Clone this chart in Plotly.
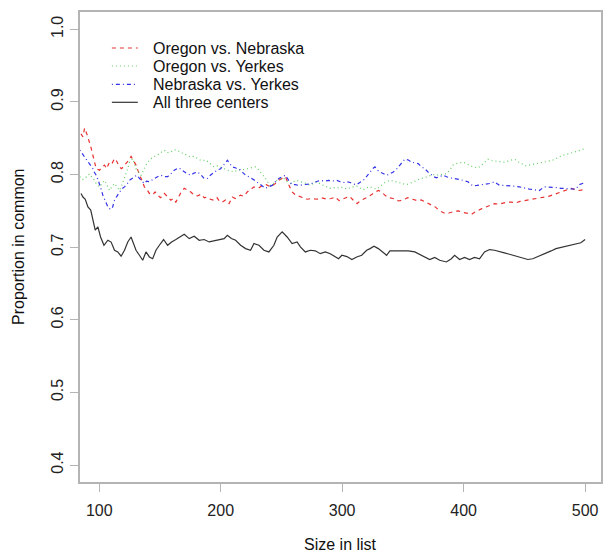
import plotly.graph_objects as go

# ---------------- data ----------------
series_names = ["Oregon vs. Nebraska", "Oregon vs. Yerkes", "Nebraska vs. Yerkes", "All three centers"]

red_x = [85, 86.5, 88, 90, 93.4, 95.5, 97.5, 100.3, 102, 104.4, 106, 108.5, 110.5, 112.6, 114.5, 116.7, 118.5,
         120.8, 123, 126.2, 128, 130.3, 132, 134.4, 137.2, 139, 141.3, 144, 146, 148.1, 150.5, 153.6, 156, 159,
         161, 163.1, 165, 167.5, 170, 172.5, 175.4, 178, 180.9, 184, 186.5, 189, 191.5, 194.6, 197, 199, 201.4,
         204, 206.9, 209.6, 212, 216.4, 219, 221.9, 224.5, 227.4, 231, 234.2, 237.5, 241, 244.5, 247.9, 251,
         253.3, 256, 258.8, 261.5, 264.3, 267.5, 271.1, 275, 279.3, 283, 287.5, 291, 294.3, 297.5, 300, 303, 306,
         309, 312.3, 315, 318, 321, 324, 327, 330.1, 333, 335.6, 338.5, 342, 346.5, 350, 354, 358, 362, 365,
         368.4, 371.5, 374, 376.6, 379, 381.5, 384.8, 388, 392, 395.7, 399, 402.5, 406.6, 409, 412.1, 415, 418,
         421.5, 425.7, 429, 432.5, 436, 439.3, 443, 446.5, 450, 453, 457, 460.5, 463.5, 466.7, 470, 473.5, 477,
         480.3, 484, 488.5, 492, 495, 498.1, 500]
red_y = [0.856, 0.852, 0.864, 0.855, 0.836, 0.822, 0.808, 0.806, 0.810, 0.813, 0.808, 0.817, 0.815, 0.822, 0.818,
         0.810, 0.808, 0.813, 0.817, 0.825, 0.820, 0.813, 0.805, 0.794, 0.783, 0.780, 0.774, 0.772, 0.776, 0.7715,
         0.768, 0.774, 0.770, 0.7646, 0.767, 0.762, 0.768, 0.776, 0.781, 0.779, 0.776, 0.772, 0.7705, 0.773, 0.768,
         0.769, 0.766, 0.7646, 0.768, 0.763, 0.762, 0.765, 0.760, 0.769, 0.767, 0.7715, 0.770, 0.776, 0.779, 0.783,
         0.781, 0.785, 0.786, 0.783, 0.787, 0.792, 0.795, 0.797, 0.786, 0.776, 0.772, 0.7705, 0.768, 0.766, 0.767,
         0.766, 0.768, 0.766, 0.767, 0.769, 0.764, 0.766, 0.768, 0.770, 0.765, 0.760, 0.764, 0.766, 0.769, 0.772,
         0.776, 0.778, 0.775, 0.771, 0.768, 0.767, 0.7636, 0.765, 0.768, 0.766, 0.764, 0.765, 0.762, 0.760, 0.758,
         0.7554, 0.752, 0.749, 0.7463, 0.747, 0.749, 0.750, 0.748, 0.747, 0.7453, 0.748, 0.751, 0.753, 0.755,
         0.757, 0.760, 0.759, 0.761, 0.762, 0.762, 0.761, 0.763, 0.764, 0.7656, 0.766, 0.767, 0.768, 0.769, 0.770,
         0.772, 0.774, 0.776, 0.778, 0.781, 0.779, 0.778, 0.779, 0.778]

green_x = [84, 86, 88, 90, 92.1, 94, 96.2, 98, 100.3, 102.5, 104.4, 106.5, 108.5, 110.5, 112.6, 114.5, 116.7,
           118.8, 120.8, 123, 124.9, 127.6, 130.3, 132.5, 134.4, 136.5, 138.5, 141, 144, 147, 149.5, 151.5, 153.6,
           156, 159, 161.5, 164.5, 167, 170, 172.5, 175.4, 178, 180.9, 184, 187.7, 191, 194.6, 197.5, 200, 203,
           205.5, 208, 211, 213.5, 216.4, 219, 221.9, 225, 228.7, 230.5, 232.8, 235, 236.9, 239, 241, 243.5, 246.5,
           249, 252, 255, 257.4, 260, 262.9, 265.5, 268.4, 271, 273.8, 276.5, 279.3, 282, 284.8, 287.5, 290.2, 293,
           295.7, 298.5, 301.1, 304, 306.6, 309, 312, 315, 317.5, 320, 323, 326, 328.4, 331, 333.9, 336.5, 339.3,
           342, 344.8, 348, 351, 353, 356, 358.5, 361.2, 364, 366.5, 369.4, 372, 374.9, 377.5, 380.3, 383, 385.8,
           388.5, 391.3, 394, 396.7, 399.5, 402.2, 404.5, 407.1, 409.5, 411.8, 414, 415.9, 418, 420, 423.5, 426.8,
           430, 433.6, 437.5, 441.8, 444, 446.2, 449, 451.4, 454, 456.9, 461, 465.1, 469, 473.3, 477.5, 481.5,
           485.5, 489.7, 494, 497, 500]
green_y = [0.797, 0.793, 0.7945, 0.798, 0.801, 0.796, 0.792, 0.786, 0.783, 0.788, 0.792, 0.785, 0.778, 0.783,
           0.7876, 0.783, 0.778, 0.786, 0.7945, 0.806, 0.817, 0.822, 0.808, 0.803, 0.799, 0.806, 0.813, 0.819,
           0.824, 0.826, 0.829, 0.832, 0.8335, 0.830, 0.831, 0.834, 0.8335, 0.830, 0.829, 0.826, 0.824, 0.825,
           0.822, 0.819, 0.820, 0.816, 0.8105, 0.812, 0.8105, 0.808, 0.806, 0.805, 0.8036, 0.806, 0.806, 0.807,
           0.808, 0.809, 0.8105, 0.808, 0.8036, 0.799, 0.7945, 0.789, 0.785, 0.788, 0.792, 0.794, 0.7945, 0.790,
           0.7876, 0.790, 0.792, 0.790, 0.789, 0.787, 0.785, 0.788, 0.790, 0.787, 0.785, 0.783, 0.781, 0.782,
           0.781, 0.783, 0.782, 0.780, 0.782, 0.783, 0.784, 0.781, 0.779, 0.782, 0.783, 0.781, 0.780, 0.783,
           0.7876, 0.790, 0.792, 0.791, 0.790, 0.788, 0.787, 0.786, 0.788, 0.790, 0.792, 0.794, 0.795, 0.7967,
           0.798, 0.800, 0.799, 0.800, 0.800, 0.801, 0.806, 0.813, 0.815, 0.8165, 0.817, 0.815, 0.813, 0.811,
           0.810, 0.809, 0.812, 0.815, 0.818, 0.821, 0.819, 0.818, 0.818, 0.817, 0.819, 0.821, 0.819, 0.816,
           0.814, 0.812, 0.813, 0.8138, 0.815, 0.8165, 0.818, 0.8197, 0.823, 0.8266, 0.828, 0.830, 0.832, 0.834,
           0.836]

blue_x = [84, 85.5, 86.6, 88.5, 90.7, 92.5, 94.8, 96, 97.5, 99, 100.3, 101.5, 103, 104.5, 105.7, 107, 108.5, 110,
          111, 112.6, 114.5, 116.7, 118.5, 120.8, 123, 124.9, 127, 129, 131, 133.1, 135, 137.2, 139, 141.3, 143.5,
          145.4, 148, 150.8, 153.5, 156.3, 159, 161.8, 164, 165.9, 168, 170, 172.5, 175.4, 178, 180.9, 183.5,
          186.4, 189.1, 191.5, 194.6, 197, 200, 202.5, 205.5, 207.5, 209.6, 212.5, 215.1, 218, 220.5, 223, 226,
          229, 231.5, 234, 236.9, 239.5, 242.4, 245, 247.9, 250.5, 253.3, 256, 258.8, 261.5, 264.3, 267.5, 271.1,
          274, 276.6, 279, 282, 285.5, 288.9, 292, 295.7, 298.5, 301.1, 304, 306.6, 309, 312, 314.5, 317.5,
          320.5, 323, 325, 327, 329, 331.1, 334, 336.6, 339.5, 342.1, 345, 347.5, 349.5, 351.6, 354.5, 357.1,
          360, 362.6, 365, 368, 371, 373.5, 375.5, 377.6, 380.5, 383.1, 386, 388.5, 391, 394, 397, 399.5, 403.6,
          405.5, 407.7, 411, 414.5, 418, 421.3, 425.4, 429.5, 433.5, 437.7, 442, 445.9, 450, 454.1, 458, 462.3,
          466.4, 470, 473.3, 477, 480.1, 484, 486.9, 490, 492.4, 495.1, 497.5, 500]
blue_y = [0.8335, 0.830, 0.8266, 0.822, 0.817, 0.812, 0.808, 0.803, 0.799, 0.793, 0.7876, 0.780, 0.7715, 0.765,
          0.760, 0.756, 0.753, 0.752, 0.755, 0.7646, 0.770, 0.776, 0.780, 0.783, 0.787, 0.792, 0.794, 0.7967,
          0.799, 0.7945, 0.791, 0.7876, 0.791, 0.790, 0.793, 0.7945, 0.797, 0.799, 0.797, 0.797, 0.801, 0.806,
          0.808, 0.809, 0.806, 0.8036, 0.801, 0.799, 0.802, 0.8036, 0.800, 0.7945, 0.7945, 0.799, 0.8036, 0.806,
          0.808, 0.814, 0.8197, 0.815, 0.8105, 0.809, 0.808, 0.803, 0.799, 0.797, 0.7945, 0.791, 0.7876, 0.784,
          0.781, 0.783, 0.785, 0.790, 0.7945, 0.797, 0.799, 0.792, 0.786, 0.786, 0.785, 0.786, 0.786, 0.787,
          0.789, 0.790, 0.792, 0.791, 0.792, 0.791, 0.792, 0.790, 0.789, 0.790, 0.789, 0.787, 0.786, 0.789,
          0.792, 0.798, 0.8036, 0.808, 0.8105, 0.806, 0.8036, 0.801, 0.799, 0.801, 0.8036, 0.808, 0.813, 0.818,
          0.821, 0.820, 0.817, 0.816, 0.815, 0.811, 0.808, 0.803, 0.799, 0.797, 0.7954, 0.797, 0.799, 0.797,
          0.7954, 0.795, 0.7945, 0.793, 0.792, 0.790, 0.787, 0.7843, 0.785, 0.786, 0.787, 0.7876, 0.790, 0.785,
          0.785, 0.785, 0.784, 0.783, 0.781, 0.780, 0.779, 0.778, 0.783, 0.783, 0.783, 0.782, 0.781, 0.781,
          0.781, 0.780, 0.780, 0.786, 0.788, 0.789]

black_x = [85, 86.6, 88.5, 90.7, 93, 94.8, 96.7, 98.9, 101.1, 103.9, 105.5, 107.1, 109.8, 112.6, 115.3, 118,
           120.8, 123.5, 126.2, 128.4, 130.3, 133.1, 135.8, 138.5, 141.3, 144, 146.7, 149.5, 153, 156.3, 159.6,
           163.1, 167.2, 170, 174.1, 178.2, 182.3, 186.4, 190.5, 194.6, 198.7, 202.8, 205.5, 208.8, 212.3, 216.4,
           220.5, 224.6, 227.4, 231.5, 235.6, 239.7, 243.8, 246.5, 250.6, 254.7, 258.8, 262.9, 265.6, 269.7, 273.8,
           277.9, 282, 286.1, 290.2, 294.3, 297, 299.8, 303.9, 308, 312, 316.1, 320.2, 323, 326.2, 329.8, 333.9,
           336.6, 339.3, 344.8, 350.3, 354.4, 359.8, 363.9, 368, 372.1, 376.2, 380.3, 385.8, 389.9, 392.6, 396.7,
           400.8, 404.9, 409, 413.1, 417.2, 421.3, 425.4, 429.5, 433.6, 437.7, 443.2, 448.7, 452.8, 456.9, 462.3,
           467.8, 472, 476, 481.5, 486.9, 492.4, 496.5, 500]
black_y = [0.774, 0.769, 0.766, 0.7554, 0.751, 0.737, 0.7233, 0.728, 0.714, 0.7026, 0.706, 0.7095, 0.707,
           0.6957, 0.6934, 0.6875, 0.6957, 0.7072, 0.714, 0.705, 0.6957, 0.6888, 0.682, 0.6934, 0.6865, 0.684,
           0.6957, 0.7026, 0.7105, 0.7026, 0.7072, 0.7105, 0.715, 0.7178, 0.7118, 0.715, 0.7095, 0.7105, 0.7072,
           0.709, 0.7105, 0.7118, 0.7164, 0.7118, 0.7095, 0.7026, 0.698, 0.6957, 0.705, 0.7026, 0.6957, 0.6934,
           0.7026, 0.714, 0.721, 0.714, 0.705, 0.7072, 0.7003, 0.6934, 0.6957, 0.695, 0.691, 0.6934, 0.691,
           0.6865, 0.684, 0.6888, 0.687, 0.683, 0.6865, 0.6888, 0.6957, 0.698, 0.7012, 0.698, 0.692, 0.6888,
           0.6948, 0.6948, 0.6957, 0.6948, 0.6934, 0.6902, 0.6865, 0.683, 0.6858, 0.682, 0.6796, 0.684, 0.6888,
           0.683, 0.6858, 0.683, 0.6858, 0.684, 0.6934, 0.6967, 0.6957, 0.6934, 0.692, 0.6902, 0.6875, 0.6857,
           0.683, 0.684, 0.6875, 0.691, 0.6948, 0.698, 0.7003, 0.7026, 0.705, 0.706, 0.7105]

x_ticks = [100, 200, 300, 400, 500]
y_ticks = [0.4, 0.5, 0.6, 0.7, 0.8, 0.9, 1.0]
y_tick_labels = ["0.4", "0.5", "0.6", "0.7", "0.8", "0.9", "1.0"]

# ---------------- styling ----------------
colors = ["#e83030", "#5fcf5f", "#3333e6", "#333333"]
dashes = ["4px,4px", "1px,3px", "1px,3px,4px,3px", "solid"]
widths = [1.2, 1.2, 1.2, 1.2]
FONT = "Liberation Sans, Arial, sans-serif"

fig = go.Figure()
all_x = [red_x, green_x, blue_x, black_x]
all_y = [red_y, green_y, blue_y, black_y]
for name, xs, ys, c, d, w in zip(series_names, all_x, all_y, colors, dashes, widths):
    fig.add_trace(go.Scatter(x=xs, y=ys, mode="lines", name=name,
                             line=dict(color=c, dash=d, width=w), showlegend=False))

# manual legend (R style, no box)
W_PLOT = 523.0
H_PLOT = 470.0
row_px = [48, 66, 84.3, 102.3]
for i, name in enumerate(series_names):
    yp = (482 - row_px[i]) / H_PLOT
    fig.add_shape(type="line", xref="paper", yref="paper",
                  x0=(112 - 80) / W_PLOT, x1=(138 - 80) / W_PLOT, y0=yp, y1=yp,
                  line=dict(color=colors[i], dash=dashes[i], width=widths[i]))
    fig.add_annotation(text=name, xref="paper", yref="paper", x=(151 - 80) / W_PLOT, y=yp,
                       xanchor="left", yanchor="middle", showarrow=False,
                       font=dict(family=FONT, size=16, color="#111111"))

# axis titles
fig.add_annotation(text="Size in list", xref="paper", yref="paper", x=0.5, y=0,
                   yshift=-62, xanchor="center", yanchor="middle", showarrow=False,
                   font=dict(family=FONT, size=16, color="#111111"))
fig.add_annotation(text="Proportion in common", xref="paper", yref="paper", x=0, y=0.5,
                   xshift=-62, xanchor="center", yanchor="middle", textangle=-90, showarrow=False,
                   font=dict(family=FONT, size=16, color="#111111"))

axis_col = "#b4b4b4"
fig.update_layout(
    width=605, height=554,
    margin=dict(l=80, r=2, t=12, b=72),
    paper_bgcolor="white", plot_bgcolor="white",
    font=dict(family=FONT, size=16, color="#222222"),
    xaxis=dict(range=[84.17, 513.1], tickvals=x_ticks, ticks="outside", ticklen=8, tickcolor=axis_col,
               tickwidth=1, showline=True, linecolor=axis_col, linewidth=1.5, mirror=True,
               showgrid=False, zeroline=False, ticklabelstandoff=5,
               tickfont=dict(family=FONT, size=16, color="#222222")),
    yaxis=dict(range=[0.3766, 1.0238], tickvals=y_ticks, ticktext=y_tick_labels, tickangle=-90,
               ticks="outside", ticklen=8, tickcolor=axis_col, tickwidth=1, showline=True,
               linecolor=axis_col, linewidth=1.5, mirror=True, showgrid=False, zeroline=False,
               ticklabelstandoff=1, tickfont=dict(family=FONT, size=16, color="#222222")),
)

fig.write_html("out.html", config={"displayModeBar": False},
               post_script="document.body.style.margin='0';document.body.style.overflow='hidden';")
